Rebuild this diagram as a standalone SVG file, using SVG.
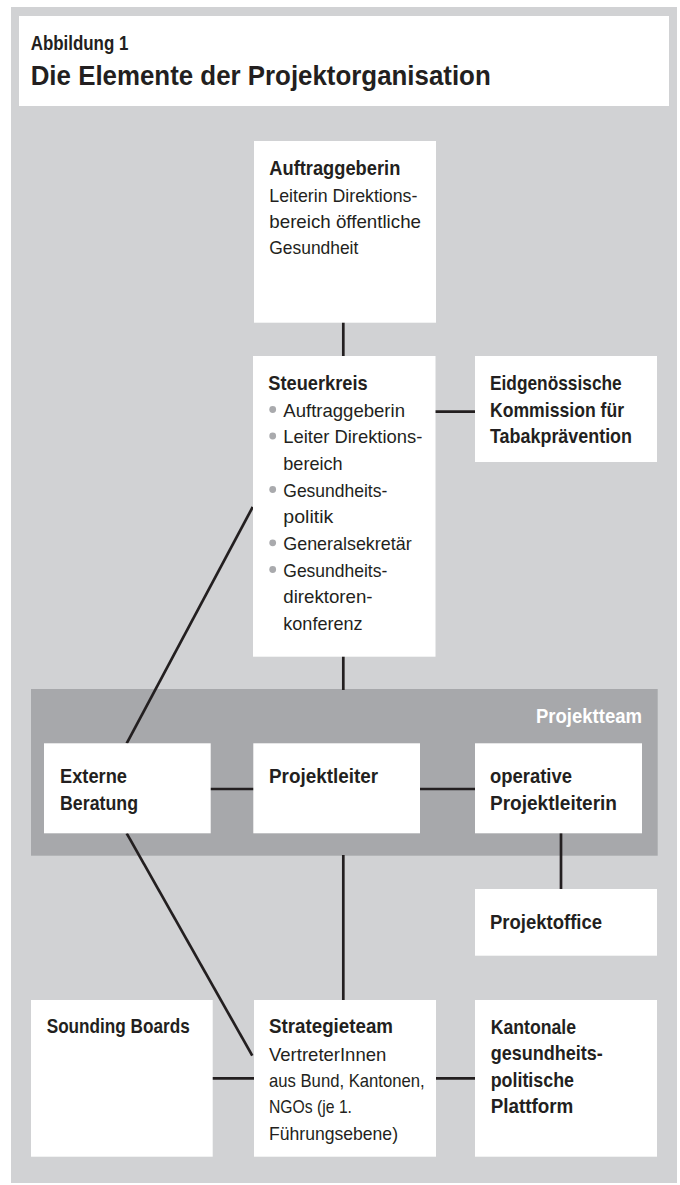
<svg xmlns="http://www.w3.org/2000/svg" width="680" height="1185" viewBox="0 0 680 1185">
<style>
.box{fill:#ffffff}
.b{font-family:"Liberation Sans",Arial,sans-serif;font-weight:bold;font-size:21px;fill:#231f20}
.r{font-family:"Liberation Sans",Arial,sans-serif;font-size:18.5px;fill:#231f20}
.t{font-size:28px}
.w{fill:#ffffff}
.dot{fill:#a9aaad}
.con line{stroke:#231f20;stroke-width:2.7}
</style>
<rect x="11" y="7" width="666" height="1176" fill="#d1d2d4"/>
<g id="title">
<rect class="box" x="19" y="16" width="650" height="90"/>
<text class="b" x="30.7" y="50" textLength="97.7" lengthAdjust="spacingAndGlyphs">Abbildung 1</text>
<text class="b t" x="30.7" y="85" textLength="460" lengthAdjust="spacingAndGlyphs">Die Elemente der Projektorganisation</text>
</g>
<g id="projektteam">
<rect x="31" y="689" width="626.7" height="166.7" fill="#a7a8ab"/>
<text class="b w" x="536" y="723.3" textLength="106" lengthAdjust="spacingAndGlyphs">Projektteam</text>
</g>
<g id="connectors" class="con">
<line x1="343.3" y1="322" x2="343.3" y2="357"/>
<line x1="435" y1="411.7" x2="476" y2="411.7"/>
<line x1="343.3" y1="656" x2="343.3" y2="690"/>
<line x1="252.7" y1="507" x2="126.7" y2="743.3"/>
<line x1="210" y1="789" x2="254" y2="789"/>
<line x1="420" y1="789" x2="476" y2="789"/>
<line x1="561" y1="833" x2="561" y2="890"/>
<line x1="126.7" y1="833.3" x2="252.3" y2="1055.7"/>
<line x1="343.3" y1="855" x2="343.3" y2="1001"/>
<line x1="212" y1="1078.3" x2="255" y2="1078.3"/>
<line x1="435" y1="1078.3" x2="476" y2="1078.3"/>
</g>
<g id="auftraggeberin">
<rect class="box" x="254" y="141" width="182" height="181.7"/>
<text class="b" x="269.3" y="175" textLength="131" lengthAdjust="spacingAndGlyphs">Auftraggeberin</text>
<text class="r" x="269.3" y="201.7" textLength="148" lengthAdjust="spacingAndGlyphs">Leiterin Direktions-</text>
<text class="r" x="269.3" y="227.7" textLength="151.7" lengthAdjust="spacingAndGlyphs">bereich öffentliche</text>
<text class="r" x="269.3" y="254" textLength="89" lengthAdjust="spacingAndGlyphs">Gesundheit</text>
</g>
<g id="steuerkreis">
<rect class="box" x="253" y="356" width="182.5" height="300.7"/>
<text class="b" x="268.3" y="390" textLength="99.3" lengthAdjust="spacingAndGlyphs">Steuerkreis</text>
<circle class="dot" cx="272.7" cy="409.5" r="3.4"/>
<text class="r" x="283.3" y="416.7" textLength="121.7" lengthAdjust="spacingAndGlyphs">Auftraggeberin</text>
<circle class="dot" cx="272.7" cy="436" r="3.4"/>
<text class="r" x="283.3" y="443.3" textLength="139" lengthAdjust="spacingAndGlyphs">Leiter Direktions-</text>
<text class="r" x="283.3" y="470" textLength="59.3" lengthAdjust="spacingAndGlyphs">bereich</text>
<circle class="dot" cx="272.7" cy="489.5" r="3.4"/>
<text class="r" x="283.3" y="496.7" textLength="104" lengthAdjust="spacingAndGlyphs">Gesundheits-</text>
<text class="r" x="283.3" y="522.7" textLength="50" lengthAdjust="spacingAndGlyphs">politik</text>
<circle class="dot" cx="272.7" cy="542.8" r="3.4"/>
<text class="r" x="283.3" y="550" textLength="128.3" lengthAdjust="spacingAndGlyphs">Generalsekretär</text>
<circle class="dot" cx="272.7" cy="569.5" r="3.4"/>
<text class="r" x="283.3" y="576.7" textLength="104" lengthAdjust="spacingAndGlyphs">Gesundheits-</text>
<text class="r" x="283.3" y="603.3" textLength="89.3" lengthAdjust="spacingAndGlyphs">direktoren-</text>
<text class="r" x="283.3" y="630" textLength="79.3" lengthAdjust="spacingAndGlyphs">konferenz</text>
</g>
<g id="eidgenoessische-kommission">
<rect class="box" x="475" y="356" width="182" height="106"/>
<text class="b" x="490" y="390" textLength="131.7" lengthAdjust="spacingAndGlyphs">Eidgenössische</text>
<text class="b" x="490" y="416.7" textLength="134" lengthAdjust="spacingAndGlyphs">Kommission für</text>
<text class="b" x="490" y="443.3" textLength="142" lengthAdjust="spacingAndGlyphs">Tabakprävention</text>
</g>
<g id="externe-beratung">
<rect class="box" x="44" y="743.3" width="166.7" height="90"/>
<text class="b" x="60" y="783" textLength="67" lengthAdjust="spacingAndGlyphs">Externe</text>
<text class="b" x="60" y="810" textLength="78" lengthAdjust="spacingAndGlyphs">Beratung</text>
</g>
<g id="projektleiter">
<rect class="box" x="253.3" y="743.3" width="166.7" height="90"/>
<text class="b" x="269" y="783" textLength="109" lengthAdjust="spacingAndGlyphs">Projektleiter</text>
</g>
<g id="operative-projektleiterin">
<rect class="box" x="475" y="743.3" width="167" height="90"/>
<text class="b" x="490" y="783" textLength="82" lengthAdjust="spacingAndGlyphs">operative</text>
<text class="b" x="490" y="810" textLength="127" lengthAdjust="spacingAndGlyphs">Projektleiterin</text>
</g>
<g id="projektoffice">
<rect class="box" x="475" y="889" width="182" height="66.7"/>
<text class="b" x="490" y="929" textLength="112" lengthAdjust="spacingAndGlyphs">Projektoffice</text>
</g>
<g id="sounding-boards">
<rect class="box" x="31" y="1000" width="181.7" height="156.7"/>
<text class="b" x="46.7" y="1033.3" textLength="143" lengthAdjust="spacingAndGlyphs">Sounding Boards</text>
</g>
<g id="strategieteam">
<rect class="box" x="254" y="1000" width="182" height="156.7"/>
<text class="b" x="269" y="1033.3" textLength="124" lengthAdjust="spacingAndGlyphs">Strategieteam</text>
<text class="r" x="269" y="1060.7" textLength="117.3" lengthAdjust="spacingAndGlyphs">VertreterInnen</text>
<text class="r" x="269" y="1086.7" textLength="155.7" lengthAdjust="spacingAndGlyphs">aus Bund, Kantonen,</text>
<text class="r" x="269" y="1113.3" textLength="83" lengthAdjust="spacingAndGlyphs">NGOs (je 1.</text>
<text class="r" x="269" y="1140" textLength="129" lengthAdjust="spacingAndGlyphs">Führungsebene)</text>
</g>
<g id="kantonale-plattform">
<rect class="box" x="475" y="1000" width="182" height="156.7"/>
<text class="b" x="490.7" y="1034" textLength="85.3" lengthAdjust="spacingAndGlyphs">Kantonale</text>
<text class="b" x="490.7" y="1060" textLength="112" lengthAdjust="spacingAndGlyphs">gesundheits-</text>
<text class="b" x="490.7" y="1086.7" textLength="83.3" lengthAdjust="spacingAndGlyphs">politische</text>
<text class="b" x="490.7" y="1113.3" textLength="82.7" lengthAdjust="spacingAndGlyphs">Plattform</text>
</g>
</svg>
